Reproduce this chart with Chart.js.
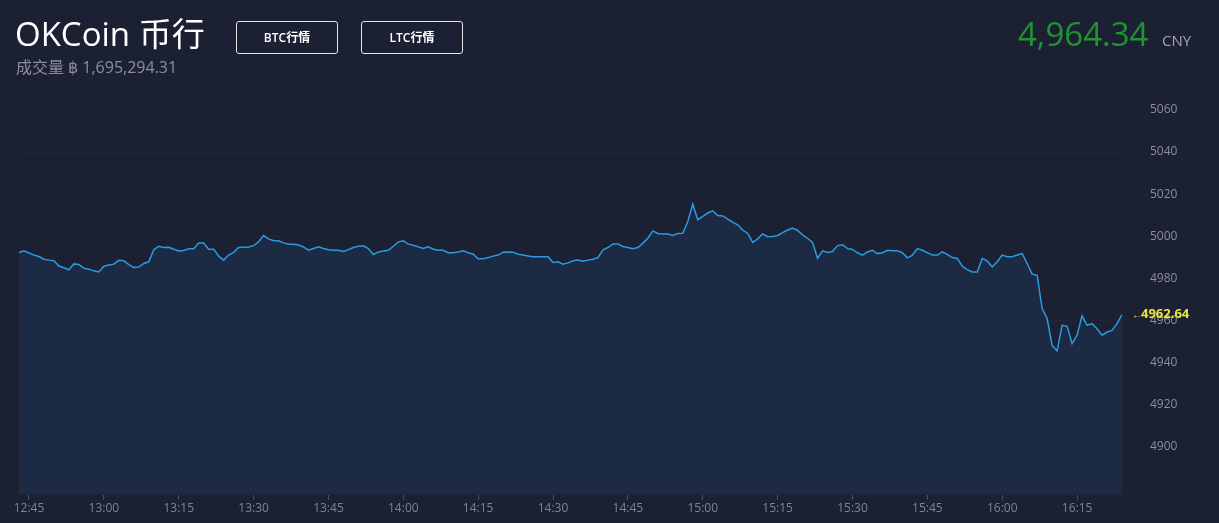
<!DOCTYPE html>
<html>
<head>
<meta charset="utf-8">
<script src="https://cdn.jsdelivr.net/npm/chart.js@4/dist/chart.umd.min.js"></script>
<style>
  html, body {
    margin: 0;
    padding: 0;
    background: #1c2033;
    width: 1219px;
    height: 523px;
    overflow: hidden;
    font-family: "Open Sans", "Noto Sans CJK SC", sans-serif;
  }
  #chart {
    position: absolute;
    left: 0;
    top: 0;
  }
  .title {
    position: absolute;
    left: 15px;
    top: 12px;
    color: #fff;
    font-size: 33px;
    line-height: 44px;
  }
  .volume {
    position: absolute;
    left: 16px;
    top: 57px;
    color: #8b8f9a;
    font-size: 16px;
    line-height: 20px;
  }
  .btn {
    position: absolute;
    top: 21px;
    width: 100px;
    height: 31px;
    border: 1px solid #e6e6e6;
    border-radius: 3px;
    color: #fff;
    font-size: 12px;
    line-height: 31px;
    text-align: center;
    font-weight: 600;
  }
  .price {
    position: absolute;
    left: 1018px;
    top: 10px;
    color: #1f9431;
    font-size: 33px;
    line-height: 48px;
  }
  .cny {
    position: absolute;
    left: 1162px;
    top: 29px;
    color: #a3a7b0;
    font-size: 15px;
    line-height: 22px;
  }
</style>
</head>
<body>
<canvas id="chart" width="1219" height="530"></canvas>
<div class="title">OKCoin 币行</div>
<div class="btn" style="left:236px">BTC行情</div>
<div class="btn" style="left:361px">LTC行情</div>
<div class="volume">成交量 ฿ 1,695,294.31</div>
<div class="price">4,964.34</div>
<div class="cny">CNY</div>
<script>
// one point per minute, starting at 12:43
const startMinute = 12 * 60 + 43;
const xTickLabels = ['12:45', '13:00', '13:15', '13:30', '13:45', '14:00', '14:15',
  '14:30', '14:45', '15:00', '15:15', '15:30', '15:45', '16:00', '16:15'];
const yTickValues = [4900, 4920, 4940, 4960, 4980, 5000, 5020, 5040, 5060];
const lastPrice = 4962.64;

const prices = [
  4992.2, 4993, 4992, 4991, 4990.3, 4989, 4988.6, 4988.3, 4985.8, 4985,
  4984, 4986.8, 4986.5, 4984.8, 4984.3, 4983.5, 4983, 4985.7, 4986.3, 4986.7,
  4988.5, 4988.3, 4986.5, 4985.1, 4985.3, 4987, 4987.8, 4993.5, 4995.2, 4994.6,
  4994.7, 4993.8, 4993, 4993.2, 4994, 4994, 4996.7, 4996.7, 4993.8, 4993.8,
  4990.5, 4988.6, 4991, 4992.3, 4994.6, 4994.7, 4994.8, 4995.5, 4997.3, 5000.3,
  4998.7, 4997.8, 4997.8, 4996.8, 4996.2, 4996.2,
  4995.8, 4994.9, 4993.3, 4994.1, 4994.9, 4994.1, 4993.5, 4993.3, 4993.3, 4992.7,
  4993.6, 4994.6, 4995.2, 4995.4, 4994.1, 4991.3, 4992.5, 4992.9, 4993.3, 4995.2,
  4997.3, 4997.8, 4996.2, 4995.7, 4994.9, 4994.1, 4994.9, 4993.8, 4993.3, 4993.3,
  4992.1, 4992.1, 4992.5, 4993, 4992.1, 4991.4, 4989.2, 4989.2, 4989.8, 4990.5,
  4991, 4992.4, 4992.5, 4992.4, 4991.4, 4991, 4990.6, 4990.2, 4990.2, 4990.2,
  4990.2, 4987.5, 4987.8, 4986.7, 4987.3,
  4988.3, 4988.6, 4988.1, 4988.6, 4989, 4989.8, 4993.5, 4994.6, 4996.3, 4996.3,
  4995.1, 4994.6, 4994, 4994.6, 4996.7, 4999, 5002.5, 5001.3, 5001, 5001,
  5000.3, 5001.3, 5001.4, 5007, 5015.2, 5007.8, 5009.4, 5011, 5012, 5009.8,
  5009.6, 5008.1, 5006.7, 5005.4, 5002.9, 5001.4, 4997, 4998.7, 5001, 4999.7,
  4999.8, 5000.3, 5001.7, 5002.9, 5003.8, 5002.7, 5000.6, 4999, 4997, 4989.5,
  4993, 4992.2, 4992.7, 4995.5, 4995.9,
  4994.1, 4993.7, 4992.1, 4991, 4992.5, 4993.3, 4991.7, 4992.1, 4993.3, 4993,
  4993, 4992.1, 4989.7, 4991, 4994.1, 4993.3, 4992.2, 4991, 4991, 4992.5,
  4991.3, 4989.8, 4989.4, 4985.7, 4984.1, 4983, 4983, 4989.4, 4988.1, 4985.4,
  4987.8, 4991, 4990.2, 4990.2, 4991, 4991.7, 4987, 4981.9, 4981.4, 4965.6,
  4960.8, 4948.1, 4945.4, 4957.6, 4957.1, 4948.9, 4952.9, 4962.1, 4957.6, 4958.4,
  4956, 4952.9, 4954.4, 4955.2, 4958.4, lastPrice
];

const labels = prices.map((p, i) => {
  const m = startMinute + i;
  return Math.floor(m / 60) + ':' + String(m % 60).padStart(2, '0');
});

// yellow "← last" marker on the price axis
const lastPriceTag = {
  id: 'lastPriceTag',
  afterDraw(chart) {
    const ctx = chart.ctx;
    const y = chart.scales.y.getPixelForValue(lastPrice);
    const x = chart.chartArea.right + 10;
    ctx.save();
    ctx.fillStyle = '#e8e83c';
    ctx.textBaseline = 'middle';
    ctx.textAlign = 'left';
    ctx.font = '10px "Open Sans"';
    ctx.fillText('←', x, y);
    ctx.font = 'bold 13px "Open Sans"';
    ctx.fillText(lastPrice.toFixed(2), x + 9, y);
    ctx.restore();
  }
};

new Chart(document.getElementById('chart'), {
  type: 'line',
  data: {
    labels: labels,
    datasets: [
      {
        data: prices,
        borderColor: '#2a9be0',
        borderWidth: 1.5,
        backgroundColor: '#1c2a43',
        fill: 'start',
        pointRadius: 0,
        tension: 0,
      },
    ],
  },
  options: {
    responsive: false,
    animation: false,
    layout: {
      padding: { top: 90, left: 19, right: 0, bottom: 0 },
    },
    plugins: {
      legend: { display: false },
      tooltip: { enabled: false },
    },
    scales: {
      x: {
        type: 'category',
        border: { display: false },
        grid: {
          drawOnChartArea: false,
          drawTicks: true,
          tickLength: 5,
          color: '#4c5264',
        },
        ticks: {
          autoSkip: false,
          maxRotation: 0,
          padding: 2,
          color: '#7f8491',
          font: { family: 'Open Sans', size: 12 },
          callback: function(val) {
            const l = this.getLabelForValue(val);
            return xTickLabels.includes(l) ? l : null;
          },
        },
      },
      y: {
        position: 'right',
        min: 4877,
        max: 5069.5,
        afterFit: scale => { scale.width = 97; },
        afterBuildTicks: scale => {
          scale.ticks = yTickValues.map(v => ({ value: v }));
        },
        border: { display: false, dash: [2, 2] },
        grid: {
          drawTicks: false,
          color: '#262c3f',
        },
        ticks: {
          padding: 28,
          color: '#8b8f9a',
          font: { family: 'Open Sans', size: 12 },
          callback: v => String(v),
        },
      },
    },
  },
  plugins: [lastPriceTag],
});
</script>
</body>
</html>
